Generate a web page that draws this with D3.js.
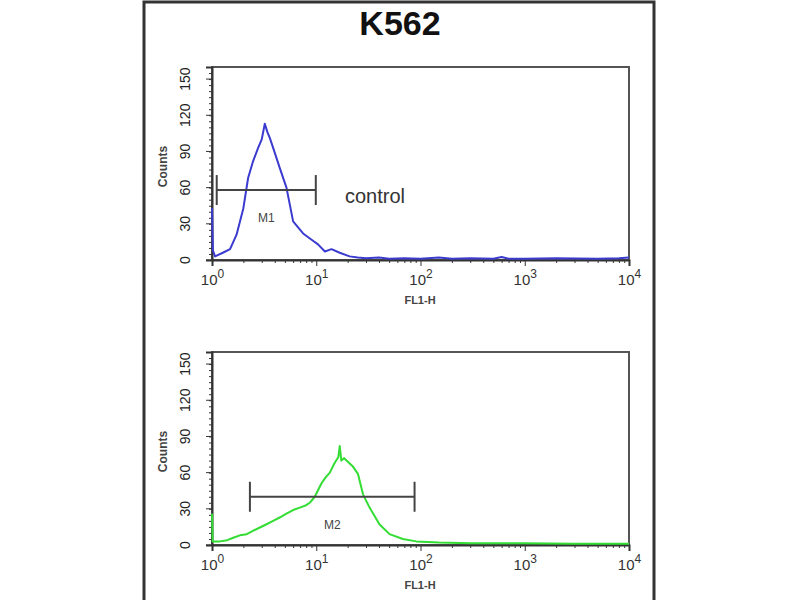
<!DOCTYPE html>
<html><head><meta charset="utf-8">
<script src="https://cdn.jsdelivr.net/npm/d3@7"></script>
<style>body{margin:0;background:#fff}svg{display:block}</style>
</head><body>
<svg id="c" width="800" height="600"></svg>
<script>
const title = "K562";
const xTickValues = [1, 10, 100, 1000, 10000];
const yTickValues = [0, 30, 60, 90, 120, 150];
const controlFL1 = [1.0, 1.02, 1.07, 1.27, 1.49, 1.72, 2.0, 2.22, 2.48, 2.77, 3.0, 3.21, 3.4, 3.59, 3.86, 4.48, 5.18, 6.0, 7.48, 9.3, 10.4, 12.1, 14.0, 16.8, 20.9, 25, 30, 40, 50, 70, 100, 150, 200, 300, 500, 600, 700, 1000, 2000, 5000, 8000, 10000];
const controlCounts = [43, 8, 3, 6, 9, 21, 43, 68, 82, 93, 100, 113, 106, 101, 93, 76, 60, 32, 22, 16, 13, 7, 9, 6, 3, 2, 1.5, 2, 1, 1.5, 1, 2, 1, 1.5, 1, 2.5, 1, 1, 1.5, 1, 1.5, 2];
const sampleFL1 = [1.0, 1.015, 1.19, 1.4, 1.6, 1.85, 2.15, 2.5, 2.88, 3.3, 3.86, 4.5, 5.18, 6.0, 6.95, 8.0, 8.66, 9.68, 11.2, 12.3, 13.5, 15.0, 16.3, 16.8, 17.4, 18.5, 19.5, 22.5, 25.1, 28.1, 32.5, 40.5, 50.5, 67.7, 91, 150, 300, 1000, 3000, 10000];
const sampleCounts = [26, 3, 3, 4, 6, 8, 9, 12, 14.5, 17, 20, 23, 26, 29, 31, 33, 35, 40, 51, 56, 60, 68, 73, 82, 70, 72, 70, 65, 59, 42, 31, 17, 9, 5, 3, 2, 1.5, 1.5, 1, 1];
const gates = [
  {label: "M1", x0: 1.11, x1: 9.9, y: 58},
  {label: "M2", x0: 2.31, x1: 87.7, y: 40}
];
const panelNote = "control";
const xLabel = "FL1-H";
const yLabel = "Counts";

const svg = d3.select("#c");
svg.append("path").attr("d","M144,600 L144,2 L654,2 L654,600")
  .attr("fill","none").attr("stroke","#333").attr("stroke-width",3);
svg.append("text").attr("x",400).attr("y",35).attr("text-anchor","middle")
  .attr("font-family","Liberation Sans, Arial, sans-serif").attr("font-weight","bold")
  .attr("font-size",34).attr("fill","#111").text(title);

const panels = [
  {top: 67, bottom: 260, fl1: controlFL1, counts: controlCounts, color: "#3b3bd0", gate: gates[0], note: panelNote},
  {top: 352, bottom: 545, fl1: sampleFL1, counts: sampleCounts, color: "#33dd33", gate: gates[1], note: null}
];
const left = 212, right = 629;
const font = "Liberation Sans, Arial, sans-serif";

panels.forEach(p => {
  const x = d3.scaleLog().domain([1, 10000]).range([left, right]);
  const y = d3.scaleLinear().domain([0, 160]).range([p.bottom, p.top]);
  const g = svg.append("g");
  g.append("rect").attr("x",left).attr("y",p.top).attr("width",right-left).attr("height",p.bottom-p.top)
    .attr("fill","none").attr("stroke","#555").attr("stroke-width",2);
  const yMinor = d3.range(0, 156, 5);
  g.append("g").attr("transform",`translate(${left},0)`)
    .call(d3.axisLeft(y).tickValues(yMinor).tickSize(3).tickFormat(""))
    .call(s => s.select(".domain").remove())
    .call(s => s.selectAll("line").attr("stroke","#333"));
  const ya = g.append("g").attr("transform",`translate(${left},0)`)
    .call(d3.axisLeft(y).tickValues(yTickValues).tickSize(6).tickFormat(d3.format("d")));
  ya.select(".domain").attr("stroke","#333").attr("stroke-width",2);
  ya.selectAll("line").attr("stroke","#333");
  ya.selectAll("text").attr("font-family",font).attr("font-size",14).attr("fill","#222")
    .attr("text-anchor","middle").attr("x",0).attr("dy",0)
    .attr("transform", d => `translate(-27,${y(d)}) rotate(-90)`).attr("y",5);
  ya.selectAll(".tick").attr("transform",null);
  ya.selectAll(".tick line").attr("transform", d => `translate(0,${y(d)})`);
  g.append("text").attr("transform",`translate(167,${(p.top+p.bottom)/2+3}) rotate(-90)`)
    .attr("text-anchor","middle").attr("font-family",font).attr("font-size",12).attr("font-weight","bold")
    .attr("fill","#444").text(yLabel);
  const xMinor = [];
  for (let e = 0; e < 4; e++) for (let m = 2; m < 10; m++) xMinor.push(m * Math.pow(10, e));
  g.append("g").attr("transform",`translate(0,${p.bottom})`)
    .call(d3.axisBottom(x).tickValues(xMinor).tickSize(3).tickFormat(""))
    .call(s => s.select(".domain").remove())
    .call(s => s.selectAll("line").attr("stroke","#333"));
  const xa = g.append("g").attr("transform",`translate(0,${p.bottom})`)
    .call(d3.axisBottom(x).tickValues(xTickValues).tickSize(6).tickFormat(""));
  xa.select(".domain").attr("stroke","#333").attr("stroke-width",2);
  xa.selectAll("line").attr("stroke","#333");
  xa.selectAll(".tick").each(function(d) {
    const t = d3.select(this).append("text").attr("y",25).attr("fill","#333")
      .attr("font-family",font).attr("font-size",15).attr("text-anchor","middle");
    t.append("tspan").text("10");
    t.append("tspan").attr("dy",-7).attr("font-size",12).text(Math.round(Math.log10(d)));
  });
  g.append("text").attr("x",420).attr("y",p.bottom+44).attr("text-anchor","middle")
    .attr("font-family",font).attr("font-size",11).attr("font-weight","bold").attr("fill","#444").text(xLabel);
  const data = p.fl1.map((v,i) => [v, p.counts[i]]);
  g.append("path").datum(data)
    .attr("d", d3.line().x(d => x(d[0])).y(d => y(d[1])))
    .attr("fill","none").attr("stroke",p.color).attr("stroke-width",2).attr("stroke-linejoin","round");
  const gt = p.gate;
  const gg = g.append("g").attr("stroke","#444").attr("stroke-width",2);
  gg.append("line").attr("x1",x(gt.x0)).attr("x2",x(gt.x1)).attr("y1",y(gt.y)).attr("y2",y(gt.y));
  [gt.x0, gt.x1].forEach(v => gg.append("line").attr("x1",x(v)).attr("x2",x(v))
    .attr("y1",y(gt.y)-15).attr("y2",y(gt.y)+15));
  g.append("text").attr("x",x(Math.sqrt(gt.x0*gt.x1))).attr("y",y(gt.y)+32)
    .attr("text-anchor","middle").attr("font-family",font).attr("font-size",12).attr("fill","#444").text(gt.label);
  if (p.note) {
    g.append("text").attr("x",345).attr("y",y(gt.y)+13).attr("font-family",font)
      .attr("font-size",20).attr("fill","#333").text(p.note);
  }
});
</script>
</body></html>
